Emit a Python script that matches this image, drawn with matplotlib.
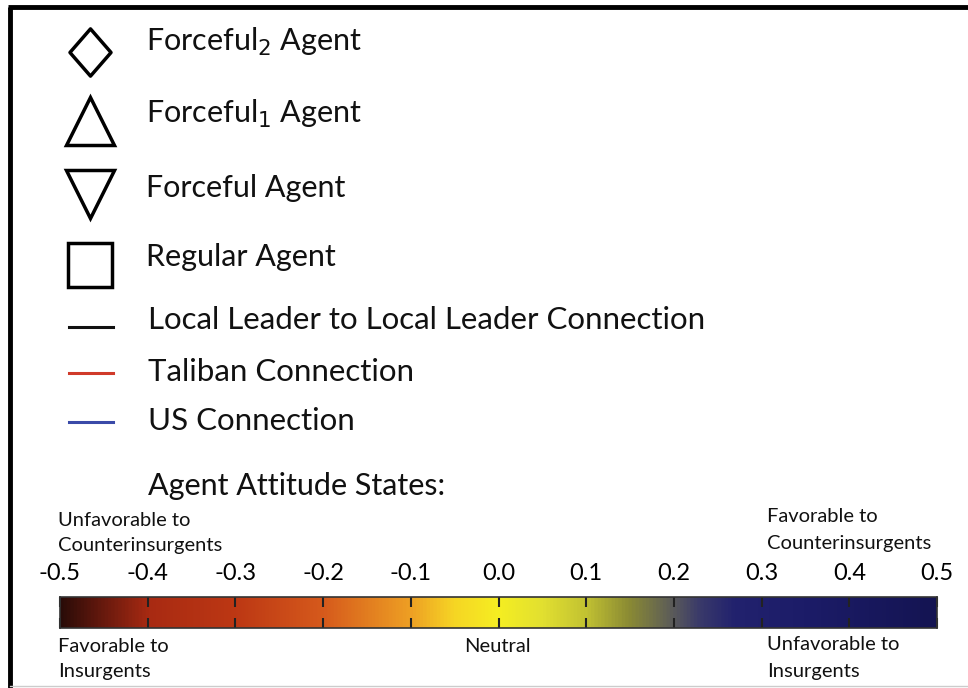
import matplotlib
matplotlib.use("Agg")
import matplotlib.pyplot as plt
import numpy as np
from matplotlib.colors import LinearSegmentedColormap
from matplotlib.path import Path

plt.rcParams['font.family'] = ['Lato', 'DejaVu Sans']

# ── Legend entries ──────────────────────────────────────────────────
marker_labels = [r"Forceful$_2$ Agent", r"Forceful$_1$ Agent",
                 "Forceful Agent", "Regular Agent"]
line_labels = ["Local Leader to Local Leader Connection",
               "Taliban Connection", "US Connection"]
line_colors = ["#111111", "#d03a2a", "#3a4aa8"]

# ── Attitude colour scale ───────────────────────────────────────────
scale_ticks = [-0.5, -0.4, -0.3, -0.2, -0.1, 0.0, 0.1, 0.2, 0.3, 0.4, 0.5]
stop_values = [-0.5, -0.45, -0.4, -0.3, -0.2, -0.1, -0.05, 0.0, 0.05,
               0.1, 0.15, 0.2, 0.23, 0.27, 0.35, 0.5]
stop_colors = ["#2a0c08", "#6a1a0e", "#a82a12", "#bd3814", "#d65a1c",
               "#eea024", "#f6d624", "#f5ee22", "#e2e030", "#c2c232",
               "#8a8a34", "#5a5a5a", "#3a3a6a", "#22226e", "#1c1c68",
               "#141452"]

# tall diamond (narrower than high)
diamond = Path([(0, 1), (0.87, 0), (0, -1), (-0.87, 0), (0, 1)],
               [Path.MOVETO, Path.LINETO, Path.LINETO, Path.LINETO, Path.CLOSEPOLY])
marker_shapes = [diamond, "^", "v", "s"]

fig = plt.figure(figsize=(9.68, 6.88), dpi=100)
ax = fig.add_axes([0, 0, 1, 1])
ax.set_xlim(0, 968)
ax.set_ylim(688, 0)
ax.axis("off")

# frame (left and top edges only visible)
ax.plot([10, 10], [7, 688], color="black", lw=3.5, solid_capstyle="butt")
ax.plot([8, 968], [7, 7], color="black", lw=3.5, solid_capstyle="butt")
ax.plot([10, 968], [686, 686], color="0.8", lw=1)

marker_y = [52, 121, 194, 265]
marker_sizes = [34, 34, 34, 32]
text_y = [42, 114, 188, 257]
for y, m, ms, ty, lab in zip(marker_y, marker_shapes, marker_sizes, text_y, marker_labels):
    ax.plot(90, y, marker=m, markersize=ms, markerfacecolor="white",
            markeredgecolor="black", markeredgewidth=2.5, linestyle="None")
    ax.text(146, ty, lab, fontsize=22, va="center", ha="left", color="#111111")

line_y = [327, 373, 422]
line_text_y = [320, 372, 421]
for y, ty, c, lab in zip(line_y, line_text_y, line_colors, line_labels):
    ax.plot([69, 113], [y, y], color=c, lw=2.2)
    ax.text(148, ty, lab, fontsize=22.5, va="center", ha="left", color="#111111")

ax.text(148, 486, "Agent Attitude States:", fontsize=22, va="center",
        ha="left", color="#111111")

small = dict(fontsize=14.5, ha="left", va="center", color="#111111")
ax.text(58, 520, "Unfavorable to", **small)
ax.text(58, 545, "Counterinsurgents", **small)
ax.text(767, 517, "Favorable to", **small)
ax.text(767, 543, "Counterinsurgents", **small)
ax.text(58, 646, "Favorable to", **small)
ax.text(58, 672, "Insurgents", **small)
ax.text(497, 646, "Neutral", fontsize=14.5, ha="center", va="center", color="#111111")
ax.text(767, 644, "Unfavorable to", **small)
ax.text(767, 671, "Insurgents", **small)

# ── Colour bar ──────────────────────────────────────────────────────
vals = np.array(stop_values)
cmap = LinearSegmentedColormap.from_list(
    "attitude", list(zip((vals - vals[0]) / (vals[-1] - vals[0]), stop_colors)))
cax = fig.add_axes([60 / 968, 1 - 628 / 688, 877 / 968, 31 / 688])
grad = np.linspace(scale_ticks[0], scale_ticks[-1], 512).reshape(1, -1)
cax.imshow(grad, aspect="auto", cmap=cmap,
           extent=[scale_ticks[0], scale_ticks[-1], 0, 1])
cax.set_xlim(scale_ticks[0], scale_ticks[-1])
cax.set_yticks([])
cax.set_xticks(scale_ticks)
cax.set_xticklabels([f"{t:.1f}" for t in scale_ticks])
cax.tick_params(axis="x", direction="in", top=True, bottom=True, length=7,
                width=1.5, color="#222222", labeltop=True, labelbottom=False,
                labelsize=17, pad=9)
for s in cax.spines.values():
    s.set_linewidth(1.2)
    s.set_color("#333333")

fig.savefig("out.png", dpi=100)
